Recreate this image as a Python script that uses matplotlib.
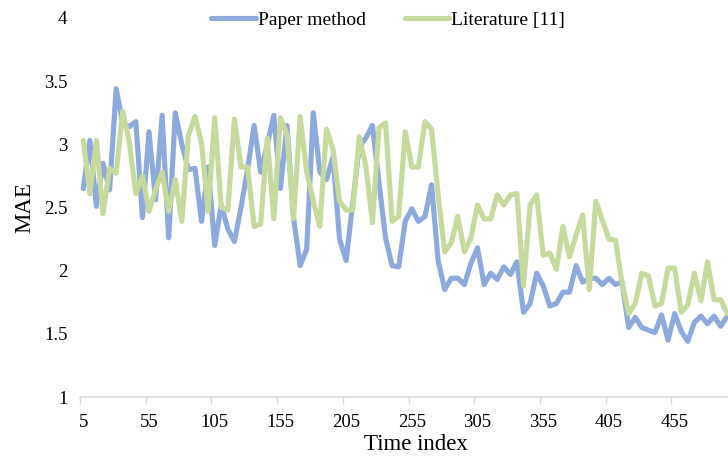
import numpy as np
import matplotlib
matplotlib.use("Agg")
import matplotlib.pyplot as plt
from matplotlib.ticker import FixedLocator

plt.rcParams['font.family'] = ['Liberation Serif', 'DejaVu Serif']

time_index = [5 + 5 * k for k in range(99)]

paper_method = [
    2.65, 3.03, 2.51, 2.85, 2.64, 3.44, 3.17, 3.14, 3.18, 2.42,
    3.10, 2.56, 3.23, 2.26, 3.25, 3.00, 2.80, 2.81, 2.39, 2.82,
    2.20, 2.52, 2.33, 2.23, 2.50, 2.80, 3.15, 2.78, 3.00, 3.23,
    2.65, 3.15, 2.42, 2.04, 2.17, 3.25, 2.78, 2.72, 2.90, 2.25,
    2.08, 2.53, 2.98, 3.05, 3.15, 2.70, 2.26, 2.04, 2.03, 2.39,
    2.49, 2.39, 2.43, 2.68, 2.08, 1.85, 1.94, 1.94, 1.89, 2.06,
    2.18, 1.89, 1.98, 1.93, 2.03, 1.97, 2.07, 1.67, 1.74, 1.98,
    1.88, 1.72, 1.74, 1.83, 1.83, 2.04, 1.91, 1.94, 1.94, 1.89,
    1.94, 1.89, 1.91, 1.55, 1.63, 1.55, 1.53, 1.51, 1.65, 1.45,
    1.66, 1.52, 1.44, 1.59, 1.64, 1.58, 1.64, 1.56, 1.64,
]

literature_11 = [
    3.03, 2.61, 3.03, 2.45, 2.81, 2.77, 3.26, 3.02, 2.61, 2.75,
    2.47, 2.64, 2.78, 2.47, 2.72, 2.39, 3.07, 3.22, 3.01, 2.47,
    3.21, 2.50, 2.48, 3.20, 2.82, 2.82, 2.35, 2.37, 3.05, 2.41,
    3.21, 3.08, 2.41, 3.22, 2.78, 2.55, 2.35, 3.12, 2.96, 2.55,
    2.48, 2.48, 3.06, 2.83, 2.38, 3.13, 3.17, 2.39, 2.43, 3.10,
    2.82, 2.82, 3.18, 3.12, 2.60, 2.15, 2.22, 2.43, 2.15, 2.26,
    2.52, 2.41, 2.41, 2.60, 2.52, 2.60, 2.61, 1.88, 2.52, 2.60,
    2.12, 2.14, 2.01, 2.35, 2.11, 2.28, 2.44, 1.85, 2.55, 2.40,
    2.25, 2.24, 1.90, 1.66, 1.74, 1.98, 1.96, 1.72, 1.74, 2.02,
    2.02, 1.67, 1.73, 1.98, 1.76, 2.07, 1.77, 1.77, 1.66,
]

x_tick_labels = ['5', '55', '105', '155', '205', '255', '305', '355', '405', '455']
y_ticks = [1, 1.5, 2, 2.5, 3, 3.5, 4]
y_tick_labels = ['1', '1.5', '2', '2.5', '3', '3.5', '4']

fig = plt.figure(figsize=(7.28, 4.59), dpi=100)
ax = fig.add_axes([80 / 728, 62 / 459, 1 - 80 / 728, (397 - 18) / 459])

blue = '#8EA9DB'
green = '#C6DA9E'
ax.plot(time_index, paper_method, color=blue, lw=3.7, label='Paper method',
        solid_joinstyle='round', solid_capstyle='round')
ax.plot(time_index, literature_11, color=green, lw=3.7, label='Literature [11]',
        solid_joinstyle='round', solid_capstyle='round')

ax.set_xlim(2.5, 495.6)
ax.set_ylim(1, 4)

# category-axis style: tick marks at category boundaries, labels on centres
ax.xaxis.set_major_locator(FixedLocator([2.5 + 50 * k for k in range(10)]))
ax.xaxis.set_major_formatter(plt.NullFormatter())
ax.xaxis.set_minor_locator(FixedLocator([float(v) for v in x_tick_labels]))
ax.set_xticklabels(x_tick_labels, minor=True)
ax.tick_params(axis='x', which='major', length=5, width=1, color='#D9D9D9', direction='out')
ax.tick_params(axis='x', which='minor', length=0, pad=12, labelsize=13.5)

ax.set_yticks(y_ticks)
ax.set_yticklabels(y_tick_labels)
ax.tick_params(axis='y', length=0, pad=9, labelsize=13.5)

for s in ['top', 'right', 'left']:
    ax.spines[s].set_visible(False)
ax.spines['bottom'].set_color('#D9D9D9')
ax.spines['bottom'].set_linewidth(1.2)

ax.set_xlabel('Time index', fontsize=16.5)
ax.xaxis.set_label_coords((416 - 80) / 648, -(445 - 397) / 379, transform=ax.transAxes)
ax.xaxis.label.set_va('center')
ax.set_ylabel('MAE', fontsize=16.5, labelpad=6)

fig.legend(loc='center', bbox_to_anchor=(388 / 728, 1 - 20 / 459), ncol=2,
           frameon=False, fontsize=14, handlelength=2.3, handletextpad=0.1,
           columnspacing=2.0)

fig.savefig('out.png', dpi=100)
